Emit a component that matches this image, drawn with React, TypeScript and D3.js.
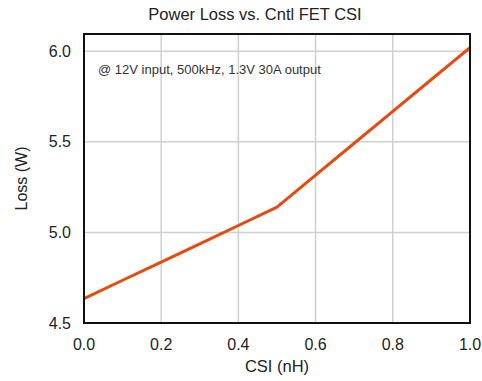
import React from "react";
import * as d3 from "d3";

const csi = [0, 0.1, 0.2, 0.3, 0.4, 0.5, 0.6, 0.7, 0.8, 0.9, 1.0];
const loss = [4.635, 4.736, 4.836, 4.937, 5.038, 5.14, 5.316, 5.492, 5.668, 5.844, 6.02];
const xTicks = [0, 0.2, 0.4, 0.6, 0.8, 1.0];
const yTicks = [4.5, 5.0, 5.5, 6.0];

const W = 482;
const H = 381;
const m = { left: 84, right: 12, top: 34, bottom: 58 };
const FONT = "'Liberation Sans', Arial, Helvetica, sans-serif";

export default function App() {
  const x = d3.scaleLinear().domain([0, 1]).range([m.left, W - m.right]);
  const y = d3.scaleLinear().domain([4.5, 6.095]).range([H - m.bottom, m.top]);
  const line = d3
    .line<number>()
    .x((_, i) => x(csi[i]))
    .y((d) => y(d));
  const x0 = m.left, x1 = W - m.right, y0 = m.top, y1 = H - m.bottom;
  return (
    <svg width={W} height={H} style={{ position: "absolute", left: 0, top: 0, background: "#fff" }} fontFamily={FONT}>
      <rect x={0} y={0} width={W} height={H} fill="#fff" />
      {xTicks.slice(1, -1).map((t) => (
        <line key={"gx" + t} x1={x(t)} x2={x(t)} y1={y0} y2={y1} stroke="#d0d0d0" strokeWidth={1.5} />
      ))}
      {yTicks.slice(1).map((t) => (
        <line key={"gy" + t} x1={x0} x2={x1} y1={y(t)} y2={y(t)} stroke="#d0d0d0" strokeWidth={1.5} />
      ))}
      <path d={line(loss) || ""} fill="none" stroke="#e8490e" strokeWidth={3} strokeLinejoin="round" />
      <rect x={x0} y={y0} width={x1 - x0} height={y1 - y0} fill="none" stroke="#111" strokeWidth={2} />
      {yTicks.map((t) => (
        <text key={"ty" + t} x={x0 - 13} y={y(t)} dy="0.35em" textAnchor="end" fontSize={16} fill="#222">
          {d3.format(".1f")(t)}
        </text>
      ))}
      {xTicks.map((t) => (
        <text key={"tx" + t} x={x(t)} y={350} textAnchor="middle" fontSize={16} fill="#222">
          {d3.format(".1f")(t)}
        </text>
      ))}
      <text x={(x0 + x1) / 2} y={372} textAnchor="middle" fontSize={16.5} fill="#222">CSI (nH)</text>
      <text transform={`translate(27,${(y0 + y1) / 2}) rotate(-90)`} textAnchor="middle" fontSize={16} fill="#222">Loss (W)</text>
      <text x={255} y={20} textAnchor="middle" fontSize={16.5} fill="#222">Power Loss vs. Cntl FET CSI</text>
      <text x={98} y={74} fontSize={13} fill="#333">@ 12V input, 500kHz, 1.3V 30A output</text>
    </svg>
  );
}
